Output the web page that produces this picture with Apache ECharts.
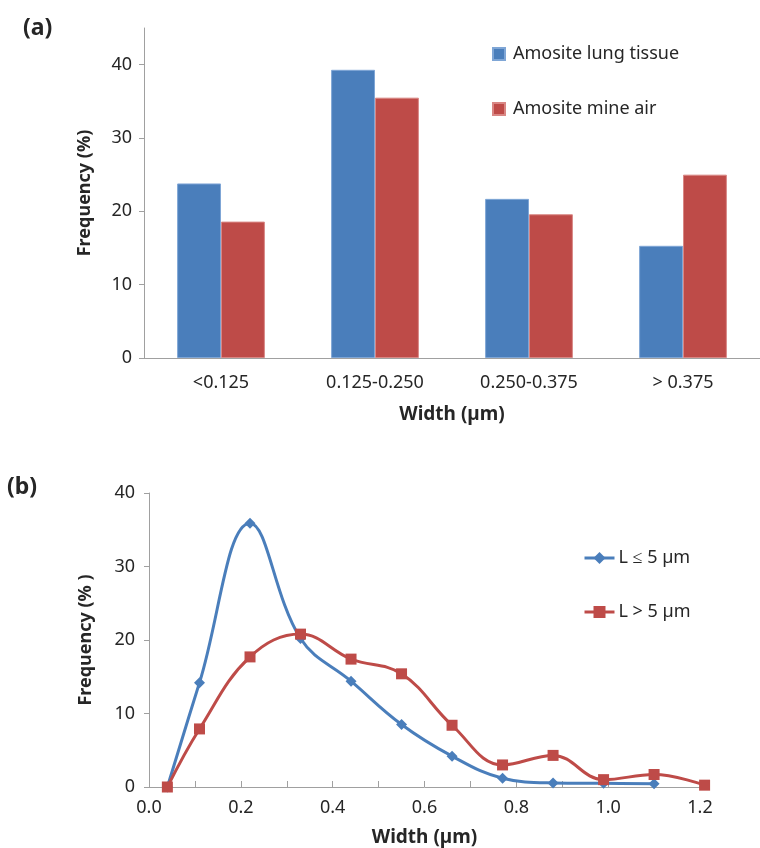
<!DOCTYPE html>
<html lang="en">
<head>
    <meta charset="UTF-8">
    <title>Amosite fibre width</title>
    <script type="text/javascript" src="https://cdn.jsdelivr.net/npm/echarts@6/dist/echarts.min.js"></script>
    <style>
        html, body {
            margin: 0;
            padding: 0;
            background: #fff;
        }

        #main {
            width: 760px;
            height: 848px;
        }
    </style>
</head>
<body>
<div id="main"></div>
<script>
    // (a) width classes
    var widthCats = ['<0.125', '0.125-0.250', '0.250-0.375', '> 0.375'];
    var lungTissue = [23.8, 39.3, 21.7, 15.3];
    var mineAir = [18.6, 35.5, 19.6, 25.0];
    var freqTicksA = [0, 10, 20, 30, 40];

    // (b) width distribution by fibre length
    var widthShort = [0.04, 0.11, 0.22, 0.33, 0.44, 0.55, 0.66, 0.77, 0.88, 0.99, 1.10];
    var freqShort = [0, 14.2, 35.9, 20.2, 14.4, 8.5, 4.2, 1.2, 0.55, 0.5, 0.45];
    var widthLong = [0.04, 0.11, 0.22, 0.33, 0.44, 0.55, 0.66, 0.77, 0.88, 0.99, 1.10, 1.21];
    var freqLong = [0, 7.9, 17.7, 20.8, 17.4, 15.4, 8.4, 3.0, 4.3, 1.0, 1.7, 0.25];

    var blue = '#4a7ebb';
    var red = '#be4b48';
    var axisGrey = '#a0a0a0';
    var textCol = '#262626';
    var font = 'Noto Sans';

    function pairs(xs, ys) {
        var out = [];
        for (var i = 0; i < xs.length; i++) {
            out.push([xs[i], ys[i]]);
        }
        return out;
    }

    var myChart = echarts.init(document.getElementById('main'));

    var option = {
        backgroundColor: '#fff',
        textStyle: {fontFamily: font, color: textCol},
        animation: false,
        title: [
            {text: '(a)', left: 23, top: 17, padding: 0, textStyle: {fontSize: 23, fontWeight: 'bold', color: textCol, fontFamily: font}},
            {text: '(b)', left: 7, top: 476, padding: 0, textStyle: {fontSize: 23, fontWeight: 'bold', color: textCol, fontFamily: font}}
        ],
        legend: [
            {
                data: ['Amosite lung tissue', 'Amosite mine air'],
                orient: 'vertical',
                left: 492,
                top: 43,
                padding: 0,
                itemWidth: 12,
                itemHeight: 12,
                itemGap: 33,
                icon: 'rect',
                textStyle: {fontSize: 18, lineHeight: 22, color: textCol, fontFamily: font, padding: [0, 0, 0, 3]}
            },
            {
                data: [
                    {name: 'L ≤ 5 µm', lineStyle: {width: 3}},
                    {name: 'L > 5 µm', lineStyle: {width: 3}}
                ],
                orient: 'vertical',
                left: 583,
                top: 547,
                padding: 0,
                itemWidth: 30,
                itemHeight: 15,
                itemGap: 32,
                lineStyle: {width: 3},
                textStyle: {fontSize: 18, lineHeight: 22, color: textCol, fontFamily: font, padding: [0, 0, 0, -1]}
            }
        ],
        grid: [
            {left: 144, top: 28, width: 620, height: 330},
            {left: 149, top: 493, width: 551, height: 294}
        ],
        xAxis: [
            {
                type: 'category',
                gridIndex: 0,
                data: widthCats,
                name: 'Width (µm)',
                nameLocation: 'middle',
                nameGap: 47,
                nameTextStyle: {fontSize: 19, fontWeight: 'bold', color: textCol},
                axisLine: {lineStyle: {color: axisGrey}},
                axisTick: {length: 5, lineStyle: {color: axisGrey}},
                axisLabel: {fontSize: 18, color: textCol, margin: 16}
            },
            {
                type: 'value',
                gridIndex: 1,
                min: 0,
                max: 1.2,
                interval: 0.2,
                name: 'Width (µm)',
                nameLocation: 'middle',
                nameGap: 41,
                nameTextStyle: {fontSize: 19, fontWeight: 'bold', color: textCol},
                axisLine: {lineStyle: {color: axisGrey}},
                axisTick: {inside: true, length: 6, lineStyle: {color: axisGrey}},
                minorTick: {show: true, splitNumber: 2, length: 6, lineStyle: {color: axisGrey}},
                splitLine: {show: false},
                axisLabel: {
                    fontSize: 18, color: textCol, margin: 12,
                    formatter: function (v) {
                        return v.toFixed(1);
                    }
                }
            }
        ],
        yAxis: [
            {
                type: 'value',
                gridIndex: 0,
                min: 0,
                max: 45,
                name: 'Frequency (%)',
                nameLocation: 'middle',
                nameGap: 50,
                nameTextStyle: {fontSize: 18, fontWeight: 'bold', color: textCol},
                axisLine: {show: true, lineStyle: {color: axisGrey}},
                axisTick: {show: true, length: 5, customValues: freqTicksA, lineStyle: {color: axisGrey}},
                axisLabel: {fontSize: 18, color: textCol, margin: 12, customValues: freqTicksA},
                splitLine: {show: false}
            },
            {
                type: 'value',
                gridIndex: 1,
                min: 0,
                max: 40,
                interval: 10,
                name: 'Frequency (% )',
                nameLocation: 'middle',
                nameGap: 54,
                nameTextStyle: {fontSize: 18, fontWeight: 'bold', color: textCol},
                axisLine: {show: true, lineStyle: {color: axisGrey}},
                axisTick: {show: true, length: 5, lineStyle: {color: axisGrey}},
                axisLabel: {fontSize: 18, color: textCol, margin: 14},
                splitLine: {show: false}
            }
        ],
        series: [
            {
                name: 'Amosite lung tissue',
                type: 'bar',
                xAxisIndex: 0,
                yAxisIndex: 0,
                barGap: '0%',
                barCategoryGap: '43%',
                itemStyle: {color: blue, borderColor: '#7fa6d6', borderWidth: 1},
                data: lungTissue
            },
            {
                name: 'Amosite mine air',
                type: 'bar',
                xAxisIndex: 0,
                yAxisIndex: 0,
                barGap: '0%',
                barCategoryGap: '43%',
                itemStyle: {color: red, borderColor: '#d98784', borderWidth: 1},
                data: mineAir
            },
            {
                name: 'L ≤ 5 µm',
                type: 'line',
                xAxisIndex: 1,
                yAxisIndex: 1,
                clip: false,
                smooth: 0.4,
                symbol: 'diamond',
                symbolSize: 11,
                lineStyle: {color: blue, width: 3},
                itemStyle: {color: blue},
                data: pairs(widthShort, freqShort)
            },
            {
                name: 'L > 5 µm',
                type: 'line',
                xAxisIndex: 1,
                yAxisIndex: 1,
                clip: false,
                smooth: 0.4,
                symbol: 'rect',
                symbolSize: 11,
                lineStyle: {color: red, width: 3},
                itemStyle: {color: red},
                data: pairs(widthLong, freqLong)
            }
        ]
    };

    myChart.setOption(option);

    window.addEventListener('resize', function () {
        myChart.resize();
    });
</script>
</body>
</html>
